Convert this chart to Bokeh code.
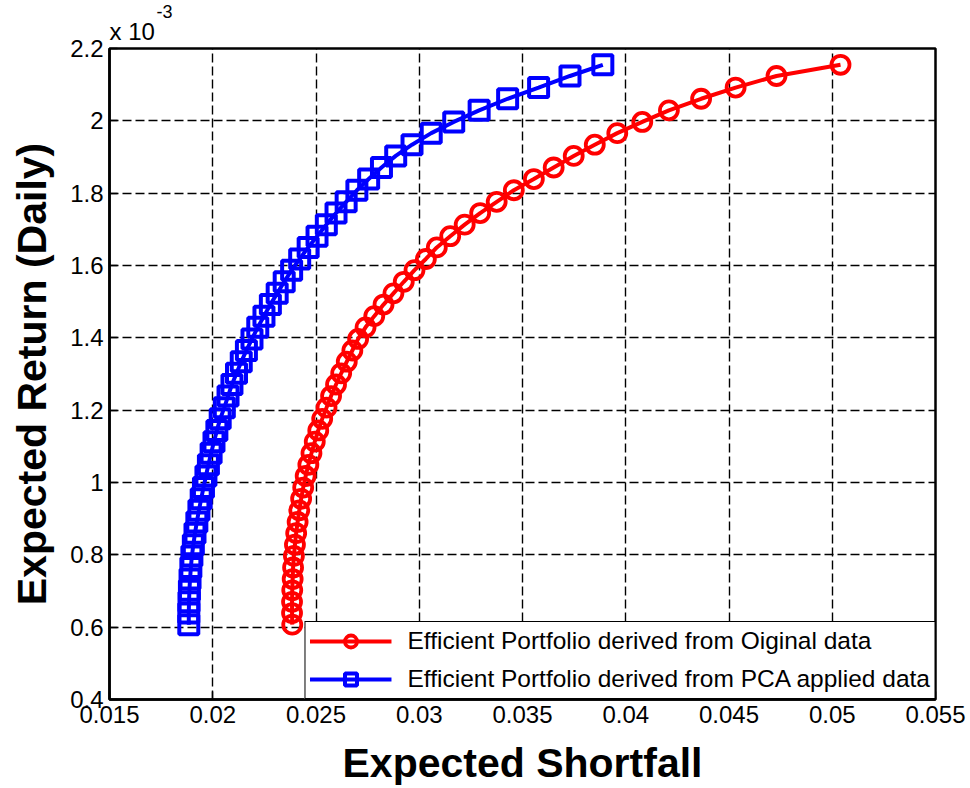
from bokeh.plotting import figure
from bokeh.models import Range1d, FixedTicker, Legend, LegendItem, Title
from bokeh.embed import file_html
from bokeh.resources import INLINE

# Target daily returns (in units of 1e-3) shared by both efficient frontiers
expected_return = [
    0.607, 0.639, 0.670, 0.702, 0.733, 0.765, 0.797, 0.828, 0.860, 0.891,
    0.923, 0.955, 0.986, 1.018, 1.049, 1.081, 1.113, 1.144, 1.176, 1.207,
    1.239, 1.271, 1.302, 1.334, 1.365, 1.397, 1.429, 1.460, 1.492, 1.523,
    1.555, 1.587, 1.618, 1.650, 1.681, 1.713, 1.745, 1.776, 1.808, 1.839,
    1.871, 1.903, 1.934, 1.966, 1.997, 2.029, 2.061, 2.092, 2.124, 2.155,
]

# Expected shortfall of the frontier built from the original returns
es_original = [
    0.02385, 0.02384, 0.02384, 0.02385, 0.02387, 0.02389, 0.02393, 0.02398, 0.02404, 0.02411,
    0.02419, 0.02428, 0.02438, 0.02450, 0.02463, 0.02478, 0.02494, 0.02511, 0.02530, 0.02551,
    0.02573, 0.02597, 0.02622, 0.02649, 0.02676, 0.02704, 0.02740, 0.02782, 0.02827, 0.02875,
    0.02925, 0.02977, 0.03032, 0.03085, 0.03150, 0.03220, 0.03295, 0.03375, 0.03458, 0.03555,
    0.03651, 0.03748, 0.03850, 0.03959, 0.04080, 0.04209, 0.04365, 0.04532, 0.04730, 0.05040,
]

# Expected shortfall of the frontier built from the PCA-transformed returns
es_pca = [
    0.01884, 0.01884, 0.01885, 0.01887, 0.01890, 0.01894, 0.01899, 0.01906, 0.01914, 0.01923,
    0.01933, 0.01944, 0.01955, 0.01967, 0.01979, 0.01992, 0.02006, 0.02020, 0.02036, 0.02056,
    0.02074, 0.02093, 0.02115, 0.02138, 0.02163, 0.02190, 0.02218, 0.02248, 0.02279, 0.02312,
    0.02346, 0.02382, 0.02421, 0.02462, 0.02505, 0.02550, 0.02597, 0.02646, 0.02698, 0.02755,
    0.02817, 0.02886, 0.02965, 0.03058, 0.03167, 0.03290, 0.03428, 0.03578, 0.03730, 0.03889,
]

x_ticks = [0.015, 0.02, 0.025, 0.03, 0.035, 0.04, 0.045, 0.05, 0.055]
x_tick_labels = ["0.015", "0.02", "0.025", "0.03", "0.035", "0.04", "0.045", "0.05", "0.055"]
y_ticks = [0.4, 0.6, 0.8, 1.0, 1.2, 1.4, 1.6, 1.8, 2.0, 2.2]
y_tick_labels = ["0.4", "0.6", "0.8", "1", "1.2", "1.4", "1.6", "1.8", "2", "2.2"]

label_original = "Efficient Portfolio derived from Oiginal data"
label_pca = "Efficient Portfolio derived from PCA applied data"

FONT = "Liberation Sans"

p = figure(
    width=970, height=788,
    output_backend="svg", toolbar_location=None,
    x_range=Range1d(0.015, 0.055), y_range=Range1d(0.4, 2.2),
    min_border_left=109, min_border_right=35, min_border_top=48, min_border_bottom=88,
    background_fill_color="white", border_fill_color="white",
)
p.outline_line_color = "black"
p.outline_line_width = 2.5
p.outline_line_alpha = 1.0

# axes
for ax, ticks, labels in ((p.xaxis[0], x_ticks, x_tick_labels), (p.yaxis[0], y_ticks, y_tick_labels)):
    ax.ticker = FixedTicker(ticks=ticks)
    ax.major_label_overrides = dict(zip(ticks, labels))
    ax.minor_tick_line_color = None
    ax.major_tick_in = 8
    ax.major_tick_out = 0
    ax.major_tick_line_width = 1.5
    ax.axis_line_width = 2.5
    ax.major_label_text_font = FONT
    ax.major_label_text_font_size = "24px"
    ax.major_label_text_color = "black"
    ax.axis_label_text_font = FONT
    ax.axis_label_text_font_style = "bold"
    ax.axis_label_text_font_size = "41px"
    ax.axis_label_text_color = "black"

p.xaxis.axis_label = "Expected Shortfall"
p.xaxis.major_label_standoff = 6
p.xaxis.axis_label_standoff = 14
p.yaxis.axis_label = "Expected Return (Daily)"
p.yaxis.major_label_standoff = 6
p.yaxis.axis_label_standoff = 12

# dashed grid
for g in (p.xgrid[0], p.ygrid[0]):
    g.grid_line_color = "black"
    g.grid_line_dash = "9 4"
    g.grid_line_width = 1.4
    g.grid_line_alpha = 1.0
p.xgrid.ticker = FixedTicker(ticks=x_ticks)
p.ygrid.ticker = FixedTicker(ticks=y_ticks)

# frontiers
r_line_o = p.line(es_original, expected_return, line_color="#FF0000", line_width=4)
r_pts_o = p.scatter(es_original, expected_return, marker="circle", size=18,
                    line_color="#FF0000", line_width=3.8, fill_color=None)
r_line_p = p.line(es_pca, expected_return, line_color="#0000FF", line_width=4)
r_pts_p = p.scatter(es_pca, expected_return, marker="square", size=19,
                    line_color="#0000FF", line_width=4, fill_color=None)

legend = Legend(
    items=[LegendItem(label=label_original, renderers=[r_line_o, r_pts_o]),
           LegendItem(label=label_pca, renderers=[r_line_p, r_pts_p])],
    location="bottom_right", margin=0, padding=4, spacing=8,
    glyph_height=30, glyph_width=82, label_height=30, label_standoff=16,
    label_text_font=FONT, label_text_font_size="24.5px", label_text_color="black",
    border_line_color="black", border_line_width=1.5, border_line_alpha=1.0,
    background_fill_color="white", background_fill_alpha=1.0,
)
p.add_layout(legend)

# axis exponent "x 10^-3" above the top-left corner:
# the base sits next to the frame, the exponent stacks above it
p.title.text = "-3"
p.title.align = "left"
p.title.offset = 47
p.title.standoff = -12
p.title.text_font = FONT
p.title.text_font_size = "18px"
p.title.text_font_style = "normal"
p.title.text_color = "black"
p.add_layout(Title(text="x 10", align="left", offset=0, standoff=8,
                   text_font=FONT, text_font_size="24px", text_font_style="normal",
                   text_color="black"), "above")

open("out.html", "w").write(file_html(p, INLINE))
